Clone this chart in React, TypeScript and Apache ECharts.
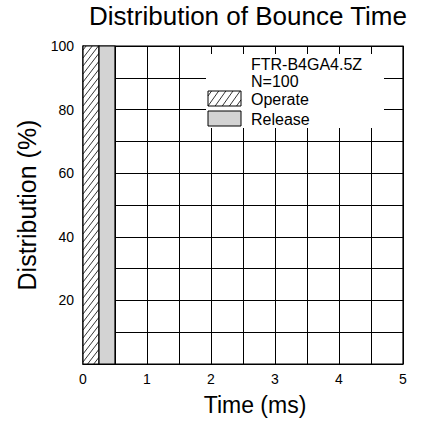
import React, { useEffect, useRef } from "react";
import * as echarts from "echarts";

const categories = ["Operate", "Release"];
const binStart = [0, 0.25];
const binEnd = [0.25, 0.5];
const values = [100, 100];
const legendHeader = ["FTR-B4GA4.5Z", "N=100"];
const xMax = 5;
const yMax = 100;

const FONT = "Liberation Sans, Arial, Helvetica, sans-serif";
const GRAY = "#d3d3d3";

function hatchLines(x0: number, y0: number, w: number, h: number, spacing: number, slope: number) {
  const x1 = x0 + w;
  const y1 = y0 + h;
  const segs: any[] = [];
  const cMin = y0 + slope * x0;
  const cMax = y1 + slope * x1;
  for (let c = cMin + spacing * 0.5; c < cMax; c += spacing) {
    const xa = (c - y1) / slope;
    const xb = (c - y0) / slope;
    const lo = Math.max(x0, Math.min(xa, xb));
    const hi = Math.min(x1, Math.max(xa, xb));
    if (hi - lo > 0.3) {
      segs.push({
        type: "line",
        shape: { x1: lo, y1: c - slope * lo, x2: hi, y2: c - slope * hi },
        style: { stroke: "#000", lineWidth: 0.8 },
        silent: true,
      });
    }
  }
  return segs;
}

export default function App() {
  const ref = useRef<HTMLDivElement>(null);
  useEffect(() => {
    if (!ref.current) return;
    const chart = echarts.init(ref.current, null, { renderer: "svg" });

    const series = categories.map((name, i) => ({
      type: "custom",
      name,
      data: [[binStart[i], binEnd[i], values[i]]],
      z: 5,
      renderItem: (params: any, api: any) => {
        const p0 = api.coord([api.value(0), 0]);
        const p1 = api.coord([api.value(1), api.value(2)]);
        const x = p0[0];
        const y = p1[1];
        const w = p1[0] - p0[0];
        const h = p0[1] - p1[1];
        const children: any[] = [];
        children.push({
          type: "rect",
          shape: { x, y, width: w, height: h },
          style: { fill: i === 0 ? "#fff" : GRAY, stroke: "none" },
        });
        if (i === 0) children.push(...hatchLines(x, y, w, h, 8, 1.3));
        children.push({
          type: "rect",
          shape: { x, y, width: w, height: h },
          style: { fill: "none", stroke: "#000", lineWidth: 1.2 },
        });
        return { type: "group", children };
      },
    }));

    const bx = 206, by = 54, bw = 178, bh = 74;
    const sw = { x: 208, w: 33, h: 15 };
    const LF = 16;
    const graphics: any[] = [
      { type: "rect", z: 100, shape: { x: bx, y: by, width: bw, height: bh }, style: { fill: "#fff", stroke: "none" } },
      { type: "text", z: 101, x: 251, y: 64, style: { text: legendHeader[0], font: `${LF}px ${FONT}`, fill: "#000", verticalAlign: "middle" } },
      { type: "text", z: 101, x: 251, y: 81, style: { text: legendHeader[1], font: `${LF}px ${FONT}`, fill: "#000", verticalAlign: "middle" } },
      {
        type: "text",
        z: 101,
        x: 248,
        y: 3,
        style: { text: "Distribution of Bounce Time", font: `26px ${FONT}`, fill: "#000", align: "center", verticalAlign: "top" },
      },
    ];
    categories.forEach((name, i) => {
      const sy = 91 + i * 20;
      graphics.push({ type: "rect", z: 101, shape: { x: sw.x, y: sy, width: sw.w, height: sw.h }, style: { fill: i === 0 ? "#fff" : GRAY, stroke: "none" } });
      if (i === 0) {
        hatchLines(sw.x, sy, sw.w, sw.h, 10, 1.4).forEach((l) => graphics.push({ ...l, z: 102 }));
      }
      graphics.push({ type: "rect", z: 103, shape: { x: sw.x, y: sy, width: sw.w, height: sw.h }, style: { fill: "none", stroke: "#000", lineWidth: 1 } });
      graphics.push({ type: "text", z: 103, x: 251, y: sy + sw.h / 2 + 0.5, style: { text: name, font: `${LF}px ${FONT}`, fill: "#000", verticalAlign: "middle" } });
    });

    chart.setOption({
      animation: false,
      backgroundColor: "#fff",
      grid: { left: 83, right: 23, top: 46, bottom: 62, show: true, borderColor: "#000", borderWidth: 1.2, backgroundColor: "transparent" },
      xAxis: {
        type: "value",
        min: 0,
        max: xMax,
        interval: 0.5,
        name: "Time (ms)",
        nameLocation: "middle",
        nameGap: 29,
        nameTextStyle: { fontFamily: FONT, fontSize: 23, color: "#000", padding: [0, 0, 0, 24] },
        axisLine: { show: true, lineStyle: { color: "#000", width: 1.2 } },
        axisTick: { show: false },
        axisLabel: {
          margin: 8,
          fontFamily: FONT,
          fontSize: 14,
          color: "#000",
          formatter: (v: number) => (Math.abs(v - Math.round(v)) < 1e-9 ? String(Math.round(v)) : ""),
        },
        splitLine: { show: true, lineStyle: { color: "#000", width: 1 } },
      },
      yAxis: {
        type: "value",
        min: 0,
        max: yMax,
        interval: 10,
        name: "Distribution (%)",
        nameLocation: "middle",
        nameGap: 38,
        nameTextStyle: { fontFamily: FONT, fontSize: 25, color: "#000" },
        axisLine: { show: true, lineStyle: { color: "#000", width: 1.2 } },
        axisTick: { show: false },
        axisLabel: {
          margin: 9,
          fontFamily: FONT,
          fontSize: 14,
          color: "#000",
          formatter: (v: number) => (v !== 0 && v % 20 === 0 ? String(v) : ""),
        },
        splitLine: { show: true, lineStyle: { color: "#000", width: 1 } },
      },
      series,
      graphic: graphics,
    });
    return () => chart.dispose();
  }, []);
  return <div ref={ref} style={{ width: 426, height: 426, position: "absolute", left: 0, top: 0 }} />;
}
